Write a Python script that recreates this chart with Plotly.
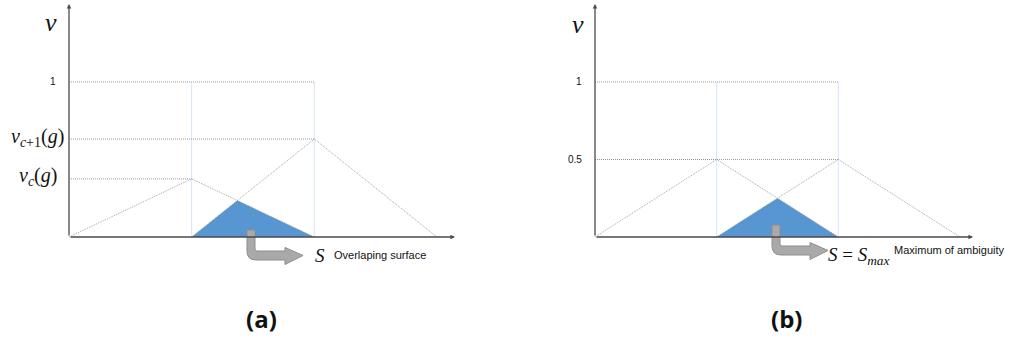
import plotly.graph_objects as go

# membership values
peaks = [1, 2]              # triangle centres (x)
a_heights = [0.375, 0.632]  # panel (a): v_c(g), v_c+1(g)
b_heights = [0.5, 0.5]      # panel (b): both at 0.5
a_ticks = [0.375, 0.632, 1]
a_ticktext = ["<i>v</i><sub><i>c</i></sub>(<i>g</i>)",
              "<i>v</i><sub><i>c</i>+1</sub>(<i>g</i>)", "1"]
b_ticks = [0.5, 1]
b_ticktext = ["0.5", "1"]
a_note = "Overlaping surface"
b_note = "Maximum of ambiguity"

W, H = 1012, 340
BLUE_FILL = "#5796d1"
LIGHT_BLUE = "#d5e6f5"
SERIF = "Liberation Serif, DejaVu Serif, serif"
SANS = "Liberation Sans, Arial, sans-serif"


def px(x):
    return x / W


def py(y):
    return 1 - y / H


def overlap(p, h):
    # intersection of falling edge of tri 1 with rising edge of tri 2
    x1, x2 = p
    h1, h2 = h
    xi = (h1 * (x1 + 1) + h2 * (x2 - 1)) / (h1 + h2)
    yi = h2 * (xi - (x2 - 1))
    return [x2 - 1, xi, x1 + 1, x2 - 1], [0, yi, 0, 0]


fig = go.Figure()

panels = [
    dict(xa="x", ya="y", heights=a_heights, ticks=a_ticks, tt=a_ticktext,
         shifts=[-10, -3, -11], xdom=[px(69), px(455)], xmax=3.147,
         name_xy=(51, 23)),
    dict(xa="x2", ya="y2", heights=b_heights, ticks=b_ticks, tt=b_ticktext,
         shifts=[-11, -11], xdom=[px(595), px(973)], xmax=3.107,
         name_xy=(578, 25)),
]

ymax = 1.503
ydom = [py(237), py(4)]
dotline = dict(color="#8f8f8f", width=0.9, dash="1px,1px")

for k, pn in enumerate(panels):
    xa, ya = pn["xa"], pn["ya"]
    # overlap area
    ox, oy = overlap(peaks, pn["heights"])
    fig.add_trace(go.Scatter(x=ox, y=oy, fill="toself", fillcolor=BLUE_FILL,
                             line=dict(width=0), mode="lines",
                             xaxis=xa, yaxis=ya, hoverinfo="skip"))
    # light blue vertical guides at the peaks
    for p in peaks:
        fig.add_trace(go.Scatter(x=[p, p], y=[0, 1], mode="lines",
                                 line=dict(color=LIGHT_BLUE, width=1),
                                 xaxis=xa, yaxis=ya, hoverinfo="skip"))
    # horizontal level lines
    fig.add_trace(go.Scatter(x=[0, 2], y=[1, 1], mode="lines", line=dotline,
                             xaxis=xa, yaxis=ya, hoverinfo="skip"))
    for p, h in zip(peaks, pn["heights"]):
        fig.add_trace(go.Scatter(x=[0, p], y=[h, h], mode="lines", line=dotline,
                                 xaxis=xa, yaxis=ya, hoverinfo="skip"))
    # the two triangular memberships
    for p, h in zip(peaks, pn["heights"]):
        fig.add_trace(go.Scatter(x=[p - 1, p, p + 1], y=[0, h, 0], mode="lines",
                                 line=dict(color="#9a9a9a", width=0.9, dash="1px,1px"),
                                 xaxis=xa, yaxis=ya, hoverinfo="skip"))

    # axes drawn as arrows
    for (x0, y0, x1, y1) in [(0, 0, pn["xmax"], 0), (0, 0, 0, ymax)]:
        fig.add_annotation(x=x1, y=y1, ax=x0, ay=y0, xref=xa, yref=ya,
                           axref=xa, ayref=ya, text="", showarrow=True,
                           arrowhead=2, arrowsize=0.7, arrowwidth=1.3,
                           arrowcolor="#4a4a4a", standoff=0, startstandoff=0)

    # y tick labels
    for v, t, sh in zip(pn["ticks"], pn["tt"], pn["shifts"]):
        small = t in ("1", "0.5")
        fig.add_annotation(x=0, y=v, xref=xa, yref=ya, text=t, showarrow=False,
                           xanchor="right", yanchor="middle", xshift=sh,
                           yshift=0 if small else 2,
                           font=dict(family=SANS if small else SERIF,
                                     size=10 if small else 20, color="#111"))
    # axis name
    nx, ny = pn["name_xy"]
    fig.add_annotation(x=px(nx), y=py(ny), xref="paper", yref="paper",
                       text="<i>v</i>", showarrow=False,
                       xanchor="center", yanchor="middle",
                       font=dict(family=SERIF, size=26, color="#111"))

    fig.update_layout({
        ("xaxis" if k == 0 else "xaxis2"): dict(domain=pn["xdom"], range=[0, pn["xmax"]],
                                                visible=False, fixedrange=True),
        ("yaxis" if k == 0 else "yaxis2"): dict(domain=ydom, range=[0, ymax],
                                                visible=False, anchor=xa,
                                                fixedrange=True),
    })


def block_arrow(a, t, s1, h, tip):
    # L-shaped grey arrow, pixel coordinates -> paper
    b = a + 8
    s2 = s1 + 9
    ht, hb = s1 - 3.5, s2 + 4.5
    ty = (s1 + s2) / 2
    pts = [("M", a, t), ("L", b, t), ("L", b, s1 - 2), ("Q", b, s1, b + 2, s1),
           ("L", h, s1), ("L", h, ht), ("L", tip, ty), ("L", h, hb), ("L", h, s2),
           ("L", a + 9, s2), ("Q", a, s2, a, s2 - 9)]
    out = []
    for p in pts:
        cmd, coords = p[0], p[1:]
        xy = []
        for i in range(0, len(coords), 2):
            xy.append(f"{px(coords[i]):.5f},{py(coords[i + 1]):.5f}")
        out.append(cmd + " " + " ".join(xy))
    return " ".join(out) + " Z"


fig.add_shape(type="path", path=block_arrow(247, 230, 251, 285, 303),
              xref="paper", yref="paper", fillcolor="#a9a9a9",
              line=dict(color="#8e8e8e", width=1))
fig.add_shape(type="path", path=block_arrow(772, 225, 246, 810, 828),
              xref="paper", yref="paper", fillcolor="#a9a9a9",
              line=dict(color="#8e8e8e", width=1))

# notes next to arrows
fig.add_annotation(x=px(313), y=py(255), xref="paper", yref="paper",
                   text="<i>S</i>", showarrow=False, xanchor="left", yanchor="middle",
                   font=dict(family=SERIF, size=19, color="#111"))
fig.add_annotation(x=px(332), y=py(255), xref="paper", yref="paper",
                   text=a_note, showarrow=False, xanchor="left", yanchor="middle",
                   font=dict(family=SANS, size=11, color="#111"))
fig.add_annotation(x=px(826), y=py(256), xref="paper", yref="paper",
                   text="<i>S</i> = <i>S</i><sub><i>max</i></sub>", showarrow=False,
                   xanchor="left", yanchor="middle",
                   font=dict(family=SERIF, size=19, color="#111"))
fig.add_annotation(x=px(892), y=py(250), xref="paper", yref="paper",
                   text=b_note, showarrow=False, xanchor="left", yanchor="middle",
                   font=dict(family=SANS, size=11, color="#111"))

# panel captions
for cx, lab in [(261, "(a)"), (786, "(b)")]:
    fig.add_annotation(x=px(cx), y=py(318), xref="paper", yref="paper",
                       text=f"<b>{lab}</b>", showarrow=False,
                       xanchor="center", yanchor="middle",
                       font=dict(family="Open Sans, Noto Sans, sans-serif",
                                 size=24, color="#111"))

fig.update_layout(
    width=W, height=H,
    margin=dict(l=0, r=0, t=0, b=0),
    paper_bgcolor="white", plot_bgcolor="white",
    showlegend=False,
)

# drop the default 8px body margin so the figure sits at the page corner
fig.write_html("out.html", config={"displayModeBar": False},
               post_script="document.body.style.margin='0';")
